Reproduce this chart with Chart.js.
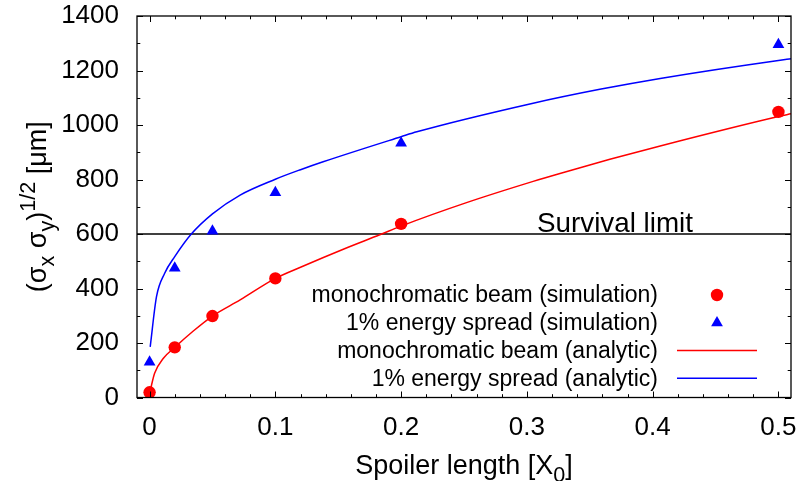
<!DOCTYPE html>
<html><head><meta charset="utf-8">
<script src="https://cdn.jsdelivr.net/npm/chart.js@4/dist/chart.umd.min.js"></script>
<style>html,body{margin:0;padding:0;background:#fff}#wrap{width:801px;height:481px}</style>
</head><body><div id="wrap"><canvas id="c" width="801" height="481"></canvas></div>
<script>
// ---- data ----
const simX = [0, 0.02, 0.05, 0.1, 0.2, 0.5];
const monoSim = [19, 184, 299, 437, 637, 1048];
const spreadSim = [130, 475, 611, 752, 934, 1295];

const monoCurveX = [0.0005, 0.004, 0.011, 0.02, 0.035, 0.05, 0.072, 0.1, 0.12, 0.155, 0.183, 0.2, 0.252, 0.305, 0.327, 0.366, 0.406, 0.5, 0.51];
const monoCurve  = [25, 89, 144, 184, 245, 299, 358, 437, 478, 546, 597, 629, 715, 793, 823, 874, 923, 1031, 1041];

const spreadCurveX = [0.0005, 0.0055, 0.012, 0.02, 0.033, 0.05, 0.072, 0.1, 0.12, 0.138, 0.2, 0.2125, 0.305, 0.358, 0.406, 0.5, 0.51];
const spreadCurve  = [186, 370, 456, 517, 599, 674, 743, 801, 836, 865, 957, 975, 1080, 1131, 1171, 1237, 1243];

const survivalLimit = 600;
const survivalLabel = 'Survival limit';

const xTicks = [0, 0.1, 0.2, 0.3, 0.4, 0.5];
const xTickLabels = ['0', '0.1', '0.2', '0.3', '0.4', '0.5'];
const xMinor = [0.02,0.04,0.06,0.08,0.12,0.14,0.16,0.18,0.22,0.24,0.26,0.28,0.32,0.34,0.36,0.38,0.42,0.44,0.46,0.48];
const yTicks = [0, 200, 400, 600, 800, 1000, 1200, 1400];
const yTickLabels = ['0', '200', '400', '600', '800', '1000', '1200', '1400'];
const yMinor = [100, 300, 500, 700, 900, 1100, 1300];

const seriesLabels = [
  'monochromatic beam (simulation)',
  '1% energy spread (simulation)',
  'monochromatic beam (analytic)',
  '1% energy spread (analytic)'
];
const xMin = -0.01, xMax = 0.51, yMin = 0, yMax = 1400;

// ---- drawing ----
const FONT = '"Liberation Sans", Arial, Helvetica, sans-serif';
const RED = '#ff0000', BLUE = '#0000ff';
const pts = (xs, ys) => xs.map((x, i) => ({x: x, y: ys[i]}));

function measureRich(ctx, parts, size) {
  let w = 0;
  parts.forEach(p => {
    const s = p[1] === 0 ? size : size * 0.8;
    ctx.font = s + 'px ' + FONT;
    p.w = ctx.measureText(p[0]).width; p.s = s; w += p.w;
  });
  return w;
}
function renderRich(ctx, parts, size, x0, y0) {
  let x = x0;
  parts.forEach(p => {
    ctx.font = p.s + 'px ' + FONT;
    const dy = p[1] === -1 ? size * 0.3 : (p[1] === 1 ? -size * 0.42 : 0);
    ctx.fillText(p[0], x, y0 + dy);
    x += p.w;
  });
}

const framePlugin = {
  id: 'gnuframe',
  afterDraw(chart) {
    const ctx = chart.ctx, a = chart.chartArea;
    const xs = chart.scales.x, ys = chart.scales.y;
    ctx.save();
    ctx.strokeStyle = '#000'; ctx.lineWidth = 1.3;
    ctx.strokeRect(a.left, a.top, a.right - a.left, a.bottom - a.top);
    ctx.lineWidth = 1;
    ctx.beginPath();
    const xt = (v, L) => { const p = Math.round(xs.getPixelForValue(v)) + 0.5;
      ctx.moveTo(p, a.bottom); ctx.lineTo(p, a.bottom - L);
      ctx.moveTo(p, a.top); ctx.lineTo(p, a.top + L); };
    const yt = (v, L) => { const p = Math.round(ys.getPixelForValue(v)) + 0.5;
      ctx.moveTo(a.left, p); ctx.lineTo(a.left + L, p);
      ctx.moveTo(a.right, p); ctx.lineTo(a.right - L, p); };
    xTicks.forEach(v => xt(v, 6)); xMinor.forEach(v => xt(v, 3.3));
    yTicks.forEach(v => yt(v, 6)); yMinor.forEach(v => yt(v, 3.3));
    ctx.stroke();

    ctx.fillStyle = '#000';
    ctx.font = '27.8px ' + FONT; ctx.textAlign = 'left'; ctx.textBaseline = 'alphabetic';
    ctx.fillText(survivalLabel, 537, ys.getPixelForValue(survivalLimit) - 2.5);

    // legend (gnuplot style: text right-aligned, sample on the right)
    const ds = chart.data.datasets;
    const rowsY = [295, 322.8, 350.5, 378.3];
    ctx.font = '23px ' + FONT; ctx.textAlign = 'right'; ctx.textBaseline = 'middle';
    [0, 1, 2, 3].forEach((di, r) => {
      const d = ds[di], y = rowsY[r];
      ctx.fillStyle = '#000';
      ctx.fillText(d.label, 658, y + 1);
      ctx.fillStyle = d.backgroundColor; ctx.strokeStyle = d.borderColor;
      if (d.showLine) {
        ctx.lineWidth = d.borderWidth;
        ctx.beginPath(); ctx.moveTo(677, y); ctx.lineTo(757, y); ctx.stroke();
      } else if (d.pointStyle === 'triangle') {
        const R = d.pointRadius;
        ctx.beginPath();
        ctx.moveTo(717, y - R); ctx.lineTo(717 + R * 0.866, y + R / 2); ctx.lineTo(717 - R * 0.866, y + R / 2);
        ctx.closePath(); ctx.fill();
      } else {
        ctx.beginPath(); ctx.arc(717, y, d.pointRadius, 0, Math.PI * 2); ctx.fill();
      }
    });

    // x title
    ctx.fillStyle = '#000'; ctx.textAlign = 'left'; ctx.textBaseline = 'alphabetic';
    const xp = [['Spoiler length [X', 0], ['0', -1], [']', 0]];
    const xw = measureRich(ctx, xp, 27);
    renderRich(ctx, xp, 27, (a.left + a.right) / 2 - xw / 2, 474);

    // y title
    const yp = [['(\u03c3', 0], ['x', -1], [' \u03c3', 0], ['y', -1], [')', 0], ['1/2', 1], [' [\u03bcm]', 0]];
    const yw = measureRich(ctx, yp, 27);
    ctx.translate(46, (a.top + a.bottom) / 2);
    ctx.rotate(-Math.PI / 2);
    renderRich(ctx, yp, 27, -yw / 2, 0);
    ctx.restore();
  }
};

const zeroPad = s => { s.paddingTop = 0; s.paddingBottom = 0; s.paddingLeft = 0; s.paddingRight = 0; };

new Chart(document.getElementById('c'), {
  type: 'scatter',
  data: {
    datasets: [
      { label: seriesLabels[0], data: pts(simX, monoSim), showLine: false,
        pointStyle: 'circle', pointRadius: 6.2, pointHoverRadius: 6.2,
        backgroundColor: RED, borderColor: RED, borderWidth: 0 },
      { label: seriesLabels[1], data: pts(simX, spreadSim), showLine: false,
        pointStyle: 'triangle', pointRadius: 6.8, pointHoverRadius: 6.8,
        backgroundColor: BLUE, borderColor: BLUE, borderWidth: 0 },
      { label: seriesLabels[2], data: pts(monoCurveX, monoCurve), showLine: true,
        pointRadius: 0, borderColor: RED, backgroundColor: RED, borderWidth: 1.5,
        cubicInterpolationMode: 'monotone' },
      { label: seriesLabels[3], data: pts(spreadCurveX, spreadCurve), showLine: true,
        pointRadius: 0, borderColor: BLUE, backgroundColor: BLUE, borderWidth: 1.5,
        cubicInterpolationMode: 'monotone' },
      { label: survivalLabel, data: [{x: xMin, y: survivalLimit}, {x: xMax, y: survivalLimit}],
        showLine: true, pointRadius: 0, borderColor: '#000', backgroundColor: '#000', borderWidth: 1.3 }
    ]
  },
  options: {
    responsive: false, animation: false, devicePixelRatio: 1,
    layout: { padding: { top: 16, right: 10, left: 0, bottom: 0 } },
    plugins: { legend: { display: false }, tooltip: { enabled: false } },
    scales: {
      x: {
        type: 'linear', min: xMin, max: xMax,
        grid: { display: false, drawTicks: false }, border: { display: false },
        afterBuildTicks: s => { s.ticks = xTicks.map(v => ({value: v})); },
        afterFit: s => { s.height = 83.5; zeroPad(s); },
        ticks: { padding: 15, color: '#000', font: { family: FONT, size: 26 },
          maxRotation: 0, autoSkip: false,
          callback: (v) => { const i = xTicks.indexOf(v); return i >= 0 ? xTickLabels[i] : ''; } }
      },
      y: {
        type: 'linear', min: yMin, max: yMax,
        grid: { display: false, drawTicks: false }, border: { display: false },
        afterBuildTicks: s => { s.ticks = yTicks.map(v => ({value: v})); },
        afterFit: s => { s.width = 137; zeroPad(s); },
        ticks: { padding: 18, color: '#000', font: { family: FONT, size: 26 }, autoSkip: false,
          callback: (v) => { const i = yTicks.indexOf(v); return i >= 0 ? yTickLabels[i] : ''; } }
      }
    }
  },
  plugins: [framePlugin]
});
</script></body></html>
